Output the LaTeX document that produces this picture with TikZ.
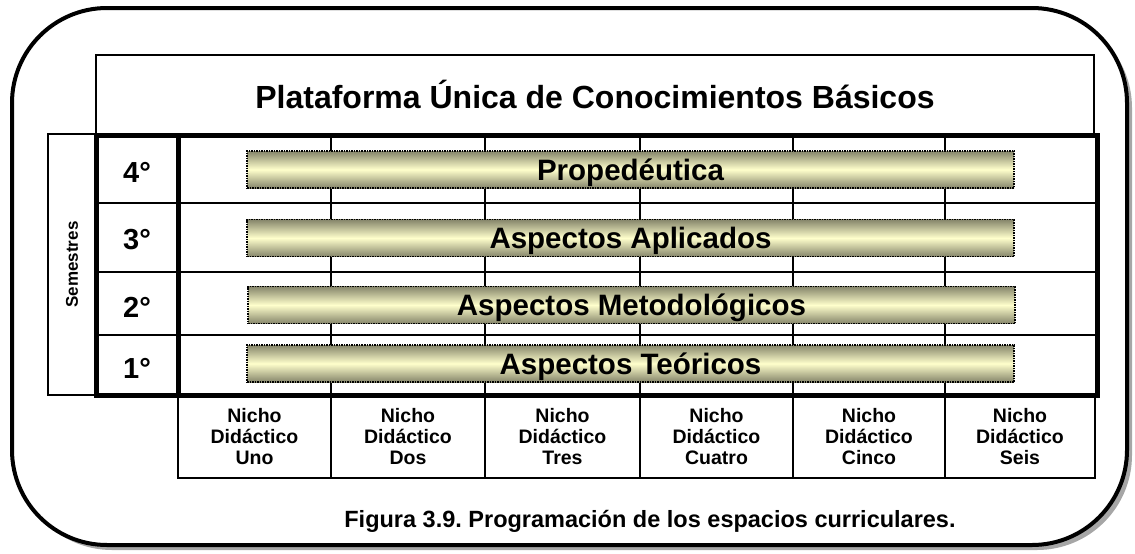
\documentclass[tikz,border=0pt]{standalone}
\usepackage{fontspec}
\setmainfont{Liberation Sans}
\usetikzlibrary{positioning}
\definecolor{barEdge}{HTML}{85856A}
\definecolor{barMid}{HTML}{FFFFCC}
\definecolor{shadowGray}{HTML}{A6A6A6}
\frenchspacing
\tikzset{
  barbox/.style={draw,densely dotted,line width=1.5pt,minimum width=767pt,minimum height=37pt,
    inner sep=0pt,text height=21pt,text depth=0pt,
    top color=barEdge,bottom color=barEdge,middle color=barMid,
    font=\bfseries\fontsize{29.5}{29.5}\selectfont},
  semnum/.style={inner sep=0pt,text height=21pt,text depth=0pt,
    font=\bfseries\fontsize{29}{29}\selectfont},
  nichobox/.style={draw,line width=2pt,minimum width=153pt,minimum height=83pt,align=center,
    font=\bfseries\fontsize{19.5}{21}\selectfont}
}
\begin{document}
\begin{tikzpicture}[x=1pt,y=-1pt]
  \useasboundingbox (0,0) rectangle (1135,554);
  %% frame with shadow
  \fill[shadowGray,rounded corners=95pt] (17,13) rectangle (1132,550);
  \draw[line width=4pt,fill=white,rounded corners=95pt] (12,8) rectangle (1127,545);
  %% title
  \node[draw,line width=2.5pt,minimum width=998pt,minimum height=79pt,
        font=\bfseries\fontsize{32}{32}\selectfont] (title) at (595,94.5)
        {Plataforma Única de Conocimientos Básicos};
  %% side label
  \node[draw,line width=1.5pt,minimum width=48pt,minimum height=261pt] (semestres) at (72,264.5) {};
  \node[rotate=90,font=\bfseries\fontsize{17}{17}\selectfont] at (semestres.center) {Semestres};
  %% columns
  \draw[line width=2pt] (331,135) -- (331,478);
  \draw[line width=2pt] (485,135) -- (485,478);
  \draw[line width=2pt] (640,135) -- (640,478);
  \draw[line width=2pt] (793,135) -- (793,478);
  \draw[line width=2pt] (945,135) -- (945,478);
  %% rows
  \draw[line width=2pt] (96,203) -- (1097,203);
  \draw[line width=2pt] (96,272) -- (1097,272);
  \draw[line width=2pt] (96,335) -- (1097,335);
  %% grid
  \draw[line width=5pt] (96,135) rectangle (1097,395);
  \draw[line width=5pt] (178,135) -- (178,395);
  %% semesters
  \node[semnum] (s4) at (137,172) {4°};
  \node[semnum] (s3) at (137,238.5) {3°};
  \node[semnum] (s2) at (137,307) {2°};
  \node[semnum] (s1) at (137,368) {1°};
  %% bars
  \node[barbox] (prop) at (630.5,169.5) {Propedéutica};
  \node[barbox] (apl) at (630.5,238) {Aspectos Aplicados};
  \node[barbox] (met) at (631.5,305) {Aspectos Metodológicos};
  \node[barbox] (teo) at (630.5,363.5) {Aspectos Teóricos};
  %% nichos
  \node[nichobox] (n1) at (254.5,436.5) {Nicho\\Didáctico\\Uno};
  \node[nichobox,minimum width=154pt] (n2) at (408,436.5) {Nicho\\Didáctico\\Dos};
  \node[nichobox,minimum width=155pt] (n3) at (562.5,436.5) {Nicho\\Didáctico\\Tres};
  \node[nichobox] (n4) at (716.5,436.5) {Nicho\\Didáctico\\Cuatro};
  \node[nichobox,minimum width=152pt] (n5) at (869,436.5) {Nicho\\Didáctico\\Cinco};
  \node[nichobox,minimum width=150pt] (n6) at (1020,436.5) {Nicho\\Didáctico\\Seis};
  %% caption
  \node[font=\bfseries\fontsize{23.5}{23.5}\selectfont] (caption) at (650,521)
        {Figura 3.9. Programación de los espacios curriculares.};
\end{tikzpicture}
\end{document}
